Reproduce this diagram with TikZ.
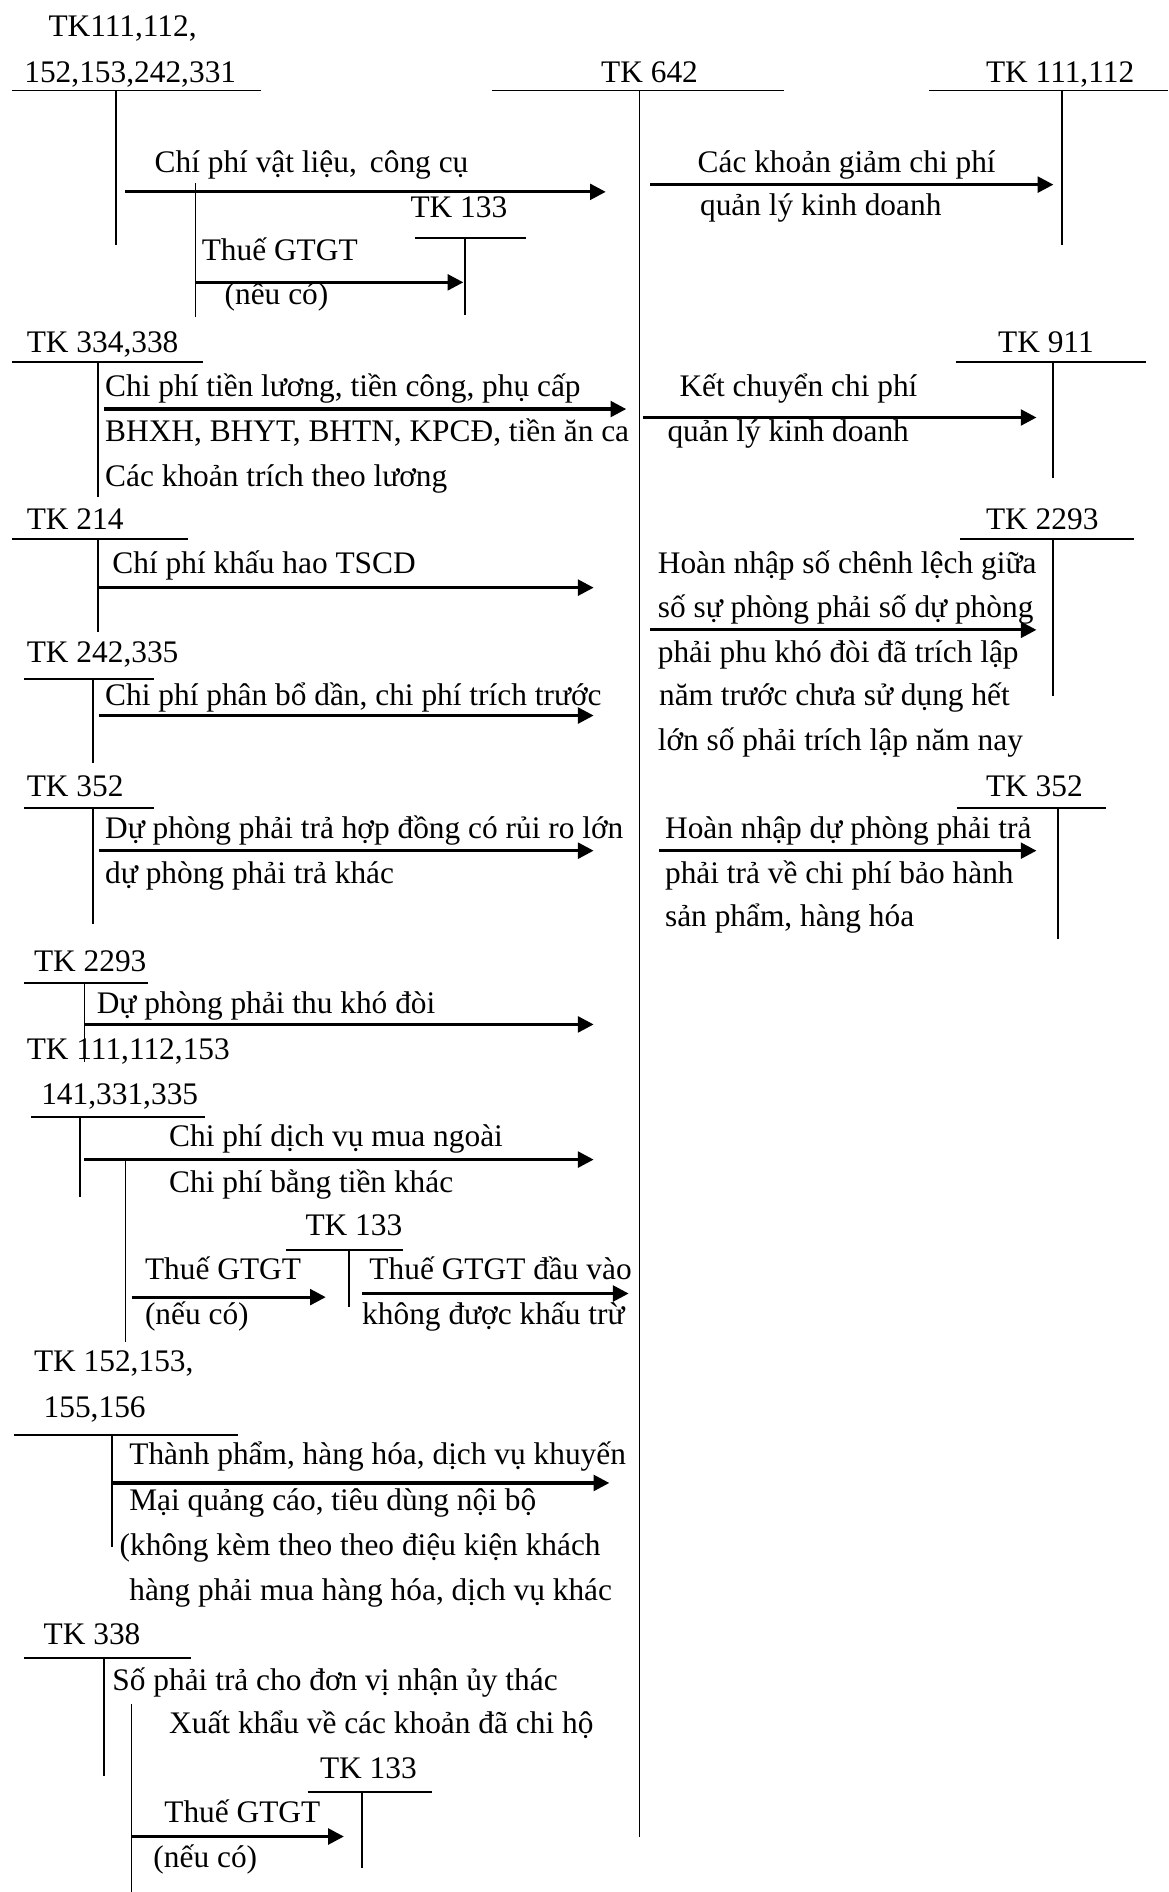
\documentclass[tikz,border=0pt]{standalone}
\usepackage{fontspec}
\setmainfont{Liberation Serif}
\usetikzlibrary{arrows.meta}
\begin{document}
\begin{tikzpicture}[x=1pt,y=-1pt,
  tl/.style={line width=1.6pt},
  arr/.style={line width=2.6pt,-{Triangle[length=13pt,width=13pt]}},
  tx/.style={inner sep=0pt,anchor=base west,font=\fontsize{26}{30}\selectfont}]
\useasboundingbox (0,0) rectangle (968,1568);

% ---------- T accounts ----------
\draw[tl] (10,75) -- (216,75) (96,75) -- (96,203);
\draw[tl] (408,75) -- (650,75) (530,75) -- (530,1522);
\draw[tl] (770,75) -- (968,75) (880,75) -- (880,203);
\draw[tl] (162,152) -- (162,263);
\draw[tl] (344,197) -- (436,197) (385,197) -- (385,261);
\draw[tl] (10,300) -- (168,300) (81,300) -- (81,412);
\draw[tl] (792,300) -- (950,300) (873,300) -- (873,396);
\draw[tl] (10,447) -- (156,447) (81,447) -- (81,524);
\draw[tl] (796,447) -- (940,447) (873,447) -- (873,577);
\draw[tl] (20,563) -- (128,563) (77,563) -- (77,632);
\draw[tl] (20,670) -- (128,670) (77,670) -- (77,766);
\draw[tl] (793,670) -- (917,670) (877,670) -- (877,778);
\draw[tl] (20,815) -- (123,815) (70,815) -- (70,880);
\draw[tl] (26,926) -- (170,926) (66,926) -- (66,992);
\draw[tl] (104,961) -- (104,1112);
\draw[tl] (237,1036) -- (334,1036) (289,1036) -- (289,1083);
\draw[tl] (12,1189) -- (197,1189) (93,1189) -- (93,1282);
\draw[tl] (20,1374) -- (158,1374) (86,1374) -- (86,1472);
\draw[tl] (109,1412) -- (109,1568);
\draw[tl] (255,1485) -- (358,1485) (300,1485) -- (300,1548);

% ---------- account labels ----------
\node[tx] (k1a) at (40,30) {TK111,112,};
\node[tx] (k1b) at (20,68) {152,153,242,331};
\node[tx] (k642) at (498,68) {TK 642};
\node[tx] (k111r) at (817,68) {TK 111,112};
\node[tx] (k133a) at (340,180) {TK 133};
\node[tx] (k334) at (22,292) {TK 334,338};
\node[tx] (k911) at (827,292) {TK 911};
\node[tx] (k214) at (22,439) {TK 214};
\node[tx] (k2293r) at (817,439) {TK 2293};
\node[tx] (k242) at (22,549) {TK 242,335};
\node[tx] (k352l) at (22,660) {TK 352};
\node[tx] (k352r) at (817,660) {TK 352};
\node[tx] (k2293l) at (28,805) {TK 2293};
\node[tx] (k111a) at (22,878) {TK 111,112,153};
\node[tx] (k111b) at (34,915) {141,331,335};
\node[tx] (k133b) at (253,1024) {TK 133};
\node[tx] (k152a) at (28,1137) {TK 152,153,};
\node[tx] (k152b) at (36,1175) {155,156};
\node[tx] (k338) at (36,1363) {TK 338};
\node[tx] (k133c) at (265,1474) {TK 133};

% ---------- arrows ----------
\coordinate (a1s) at (104,159);  \coordinate (a1e) at (502,159);
\coordinate (a2s) at (162,234);  \coordinate (a2e) at (384,234);
\coordinate (a3s) at (539,153);  \coordinate (a3e) at (873,153);
\coordinate (a4s) at (86,339);   \coordinate (a4e) at (519,339);
\coordinate (a5s) at (533,346);  \coordinate (a5e) at (859,346);
\coordinate (a6s) at (81,487);   \coordinate (a6e) at (492,487);
\coordinate (a7s) at (539,522);  \coordinate (a7e) at (859,522);
\coordinate (a8s) at (82,593);   \coordinate (a8e) at (492,593);
\coordinate (a9s) at (82,705);   \coordinate (a9e) at (492,705);
\coordinate (a10s) at (546,705); \coordinate (a10e) at (859,705);
\coordinate (a11s) at (70,849);  \coordinate (a11e) at (492,849);
\coordinate (a12s) at (70,961);  \coordinate (a12e) at (492,961);
\coordinate (a13s) at (109,1075);\coordinate (a13e) at (270,1075);
\coordinate (a14s) at (300,1072);\coordinate (a14e) at (521,1072);
\coordinate (a15s) at (93,1229); \coordinate (a15e) at (505,1229);
\coordinate (a16s) at (109,1522);\coordinate (a16e) at (285,1522);
\foreach \i in {1,...,16} {\draw[arr] (a\i s) -- (a\i e);}

% ---------- arrow texts ----------
\node[tx] (t1) at (128,143) {Chí phí vật liệu,\, công cụ};
\node[tx] (t2a) at (167,216) {Thuế GTGT};
\node[tx] (t2b) at (186,252) {(nếu có)};
\node[tx] (t3a) at (578,143) {Các khoản giảm chi phí};
\node[tx] (t3b) at (580,179) {quản lý kinh doanh};
\node[tx] (t4a) at (87,329) {Chi phí tiền lương, tiền công, phụ cấp};
\node[tx] (t4b) at (87,366) {BHXH, BHYT, BHTN, KPCĐ, tiền ăn ca};
\node[tx] (t4c) at (87,403) {Các khoản trích theo lương};
\node[tx] (t5a) at (563,329) {Kết chuyển chi phí};
\node[tx] (t5b) at (553,366) {quản lý kinh doanh};
\node[tx] (t6) at (93,475) {Chí phí khấu hao TSCD};
\node[tx] (t7a) at (545,475) {Hoàn nhập số chênh lệch giữa};
\node[tx] (t7b) at (545,512) {số sự phòng phải số dự phòng};
\node[tx] (t7c) at (545,549) {phải phu khó đòi đã trích lập};
\node[tx] (t7d) at (546,585) {năm trước chưa sử dụng hết};
\node[tx] (t7e) at (545,622) {lớn số phải trích lập năm nay};
\node[tx] (t8) at (87,585) {Chi phí phân bổ dần, chi phí trích trước};
\node[tx] (t9a) at (87,695) {Dự phòng phải trả hợp đồng có rủi ro lớn};
\node[tx] (t9b) at (87,732) {dự phòng phải trả khác};
\node[tx] (t10a) at (551,695) {Hoàn nhập dự phòng phải trả};
\node[tx] (t10b) at (551,732) {phải trả về chi phí bảo hành};
\node[tx] (t10c) at (551,768) {sản phẩm, hàng hóa};
\node[tx] (t11) at (80,840) {Dự phòng phải thu khó đòi};
\node[tx] (t12a) at (140,950) {Chi phí dịch vụ mua ngoài};
\node[tx] (t12b) at (140,988) {Chi phí bằng tiền khác};
\node[tx] (t13a) at (120,1060) {Thuế GTGT};
\node[tx] (t13b) at (120,1098) {(nếu có)};
\node[tx] (t14a) at (306,1060) {Thuế GTGT đầu vào};
\node[tx] (t14b) at (300,1098) {không được khấu trừ};
\node[tx] (t15a) at (107,1214) {Thành phẩm, hàng hóa, dịch vụ khuyến};
\node[tx] (t15b) at (107,1252) {Mại quảng cáo, tiêu dùng nội bộ};
\node[tx] (t15c) at (99,1289) {(không kèm theo theo điệu kiện khách};
\node[tx] (t15d) at (107,1326) {hàng phải mua hàng hóa, dịch vụ khác};
\node[tx] (t16a) at (93,1401) {Số phải trả cho đơn vị nhận ủy thác};
\node[tx] (t16b) at (140,1437) {Xuất khẩu về các khoản đã chi hộ};
\node[tx] (t17a) at (136,1510) {Thuế GTGT};
\node[tx] (t17b) at (127,1548) {(nếu có)};
\end{tikzpicture}
\end{document}
